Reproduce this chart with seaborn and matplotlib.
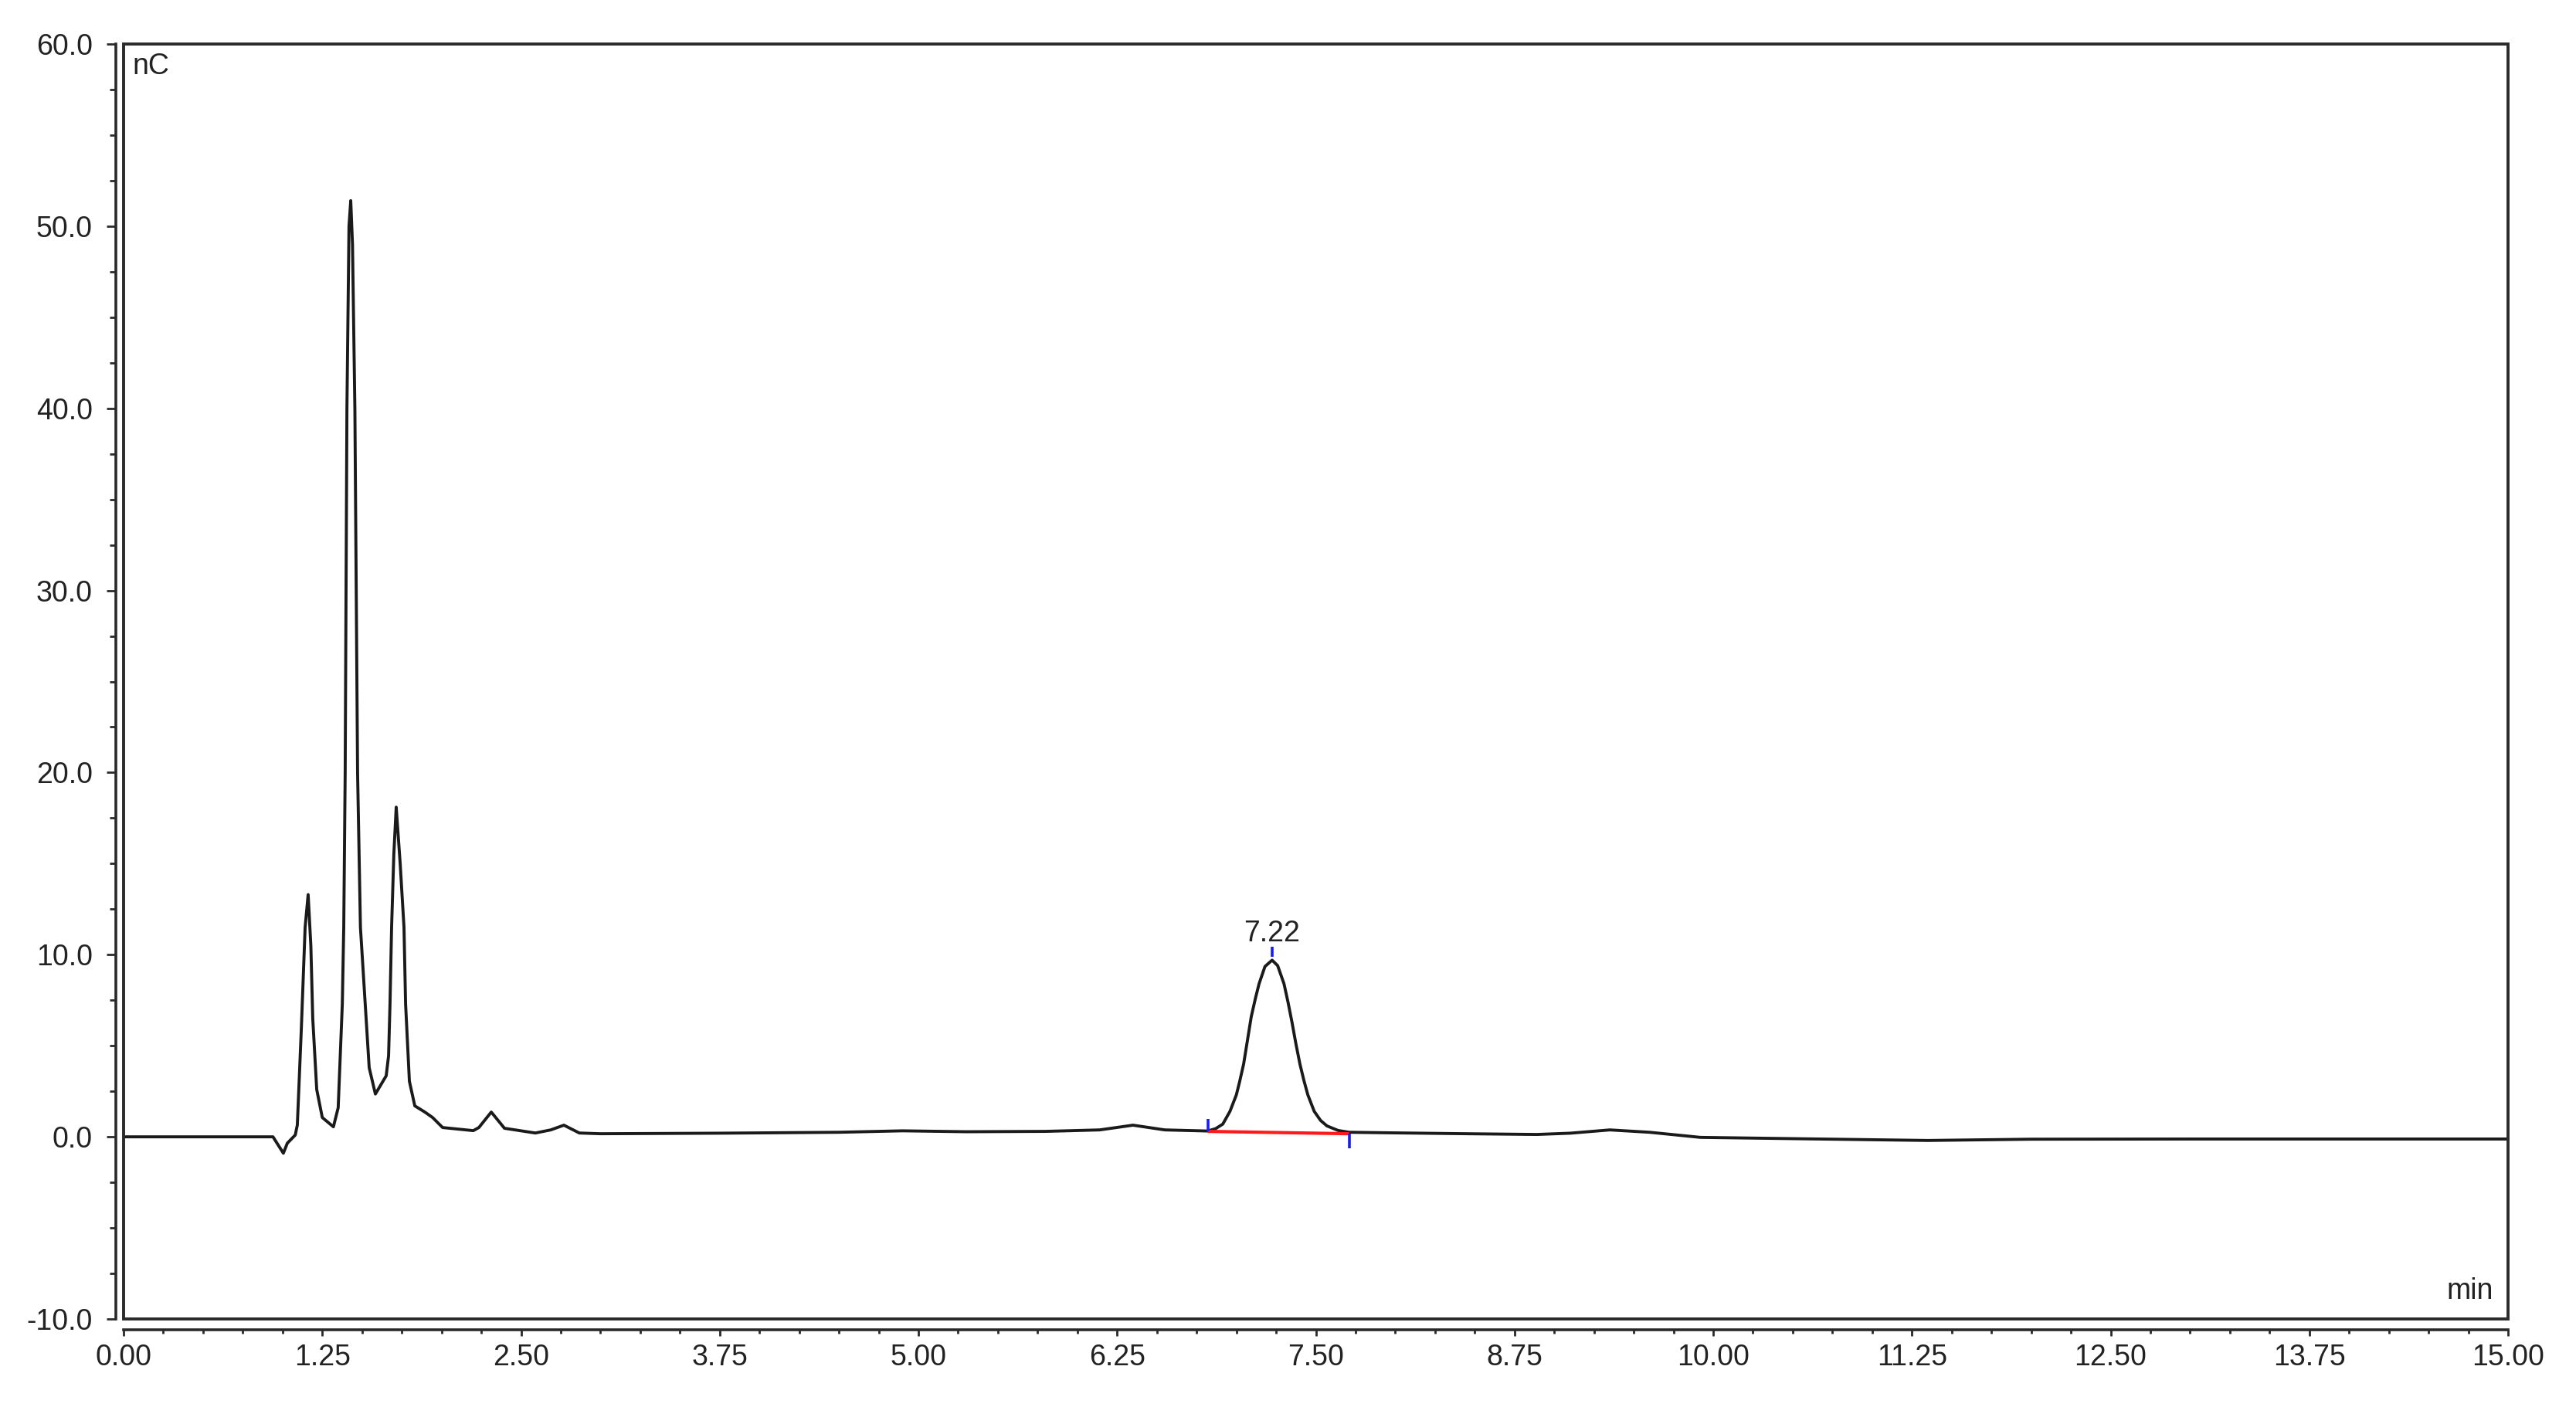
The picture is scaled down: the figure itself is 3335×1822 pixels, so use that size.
"""
Chromatogram (nC vs min) with one integrated peak at 7.22 min.
"""

import matplotlib

matplotlib.use("Agg")
from matplotlib import pyplot as plt
from matplotlib.patches import Rectangle
from matplotlib.ticker import FixedLocator, MultipleLocator, FormatStrFormatter
import pandas as pd
import seaborn as sns

# detector trace
time_min = [
    0.00, 0.94, 1.005, 1.03, 1.08, 1.093, 1.118, 1.142, 1.161, 1.178, 1.19,
    1.215, 1.25, 1.32, 1.35, 1.376, 1.385, 1.394, 1.405, 1.418, 1.429, 1.44,
    1.455, 1.472, 1.49, 1.52, 1.545, 1.584, 1.652, 1.667, 1.676, 1.686, 1.70,
    1.715, 1.74, 1.764, 1.774, 1.798, 1.832, 1.895, 1.944, 2.007, 2.20, 2.235,
    2.313, 2.396, 2.59, 2.687, 2.77, 2.867, 3.00, 3.75, 4.50, 4.90, 5.30, 5.80,
    6.14, 6.35, 6.55, 6.82, 6.87, 6.915, 6.96, 7.00, 7.02, 7.046, 7.07, 7.094,
    7.12, 7.143, 7.18, 7.225, 7.26, 7.30, 7.325, 7.35, 7.375, 7.40, 7.425,
    7.45, 7.49, 7.53, 7.57, 7.64, 7.71, 7.97, 8.45, 8.89, 9.10, 9.35, 9.60,
    9.92, 10.50, 11.35, 12.00, 13.00, 15.00,
]
signal_nc = [
    0.00, 0.00, -0.90, -0.35, 0.10, 0.65, 5.9, 11.5, 13.3, 10.5, 6.5,
    2.6, 1.06, 0.55, 1.6, 7.3, 11.5, 20.0, 40.0, 50.0, 51.4, 49.0,
    40.0, 20.0, 11.5, 7.3, 3.8, 2.35, 3.35, 4.45, 7.3, 11.5, 15.5,
    18.1, 15.0, 11.5, 7.3, 3.05, 1.7, 1.36, 1.06, 0.51, 0.34, 0.51,
    1.36, 0.47, 0.21, 0.38, 0.64, 0.21, 0.17, 0.20, 0.25, 0.33, 0.28, 0.30,
    0.38, 0.64, 0.38, 0.32, 0.45, 0.70, 1.4, 2.3, 3.0, 4.0, 5.3, 6.6,
    7.6, 8.4, 9.35, 9.70, 9.40, 8.4, 7.4, 6.3, 5.1, 4.0, 3.1,
    2.3, 1.4, 0.90, 0.60, 0.35, 0.25, 0.22, 0.17, 0.13, 0.20, 0.38, 0.25,
    -0.03, -0.10, -0.20, -0.13, -0.12, -0.12,
]

# integration of the 7.22 peak
peak_label = "7.22"
peak_time = 7.225
peak_height = 9.70
base_times = [6.82, 7.71]
base_values = [0.30, 0.17]

x_ticks = [0.00, 1.25, 2.50, 3.75, 5.00, 6.25, 7.50, 8.75, 10.00, 11.25, 12.50, 13.75, 15.00]
y_ticks = [-10.0, 0.0, 10.0, 20.0, 30.0, 40.0, 50.0, 60.0]

sns.set_style("ticks")
plt.rcParams["font.family"] = ["Liberation Sans", "DejaVu Sans"]

DPI = 100
fig = plt.figure(figsize=(3335 / DPI, 1822 / DPI), dpi=DPI)
ax = fig.add_axes([160 / 3335, 114 / 1822, 3087 / 3335, 1651 / 1822])

trace = pd.DataFrame({"time": time_min, "signal": signal_nc})
sns.lineplot(data=trace, x="time", y="signal", ax=ax, sort=False,
             estimator=None, color="#1a1a1a", linewidth=2.8, zorder=3)

# integration baseline and markers
ax.plot(base_times, base_values, color="#ff1a1a", linewidth=3.0, zorder=4,
        solid_capstyle="butt")
ax.vlines(base_times[0], base_values[0], base_values[0] + 0.7,
          color="#1a1aff", linewidth=2.6, zorder=5)
ax.vlines(base_times[1], base_values[1] - 0.8, base_values[1],
          color="#1a1aff", linewidth=2.6, zorder=5)
ax.vlines(peak_time, peak_height + 0.2, peak_height + 0.75,
          color="#1a1aff", linewidth=2.6, zorder=5)
ax.text(peak_time, peak_height + 1.05, peak_label, ha="center", va="baseline",
        fontsize=27, color="#222222")

ax.set_xlim(0, 15)
ax.set_ylim(-10, 60)
ax.set_xlabel("")
ax.set_ylabel("")

ax.xaxis.set_major_locator(FixedLocator(x_ticks))
ax.xaxis.set_minor_locator(MultipleLocator(0.25))
ax.xaxis.set_major_formatter(FormatStrFormatter("%.2f"))
ax.yaxis.set_major_locator(FixedLocator(y_ticks))
ax.yaxis.set_minor_locator(MultipleLocator(2.5))
ax.yaxis.set_major_formatter(FormatStrFormatter("%.1f"))

frame_color = "#2a2a2a"
for side in ("top", "right"):
    ax.spines[side].set_visible(False)
ax.spines["left"].set_position(("outward", 7.2))
ax.spines["bottom"].set_position(("outward", 10))
for side in ("left", "bottom"):
    ax.spines[side].set_linewidth(2.6)
    ax.spines[side].set_color(frame_color)

ax.add_patch(Rectangle((0, 0), 1, 1, transform=ax.transAxes, fill=False,
                       edgecolor=frame_color, linewidth=2.8, clip_on=False,
                       zorder=6))

ax.tick_params(axis="y", which="major", direction="out", length=8.6, width=2.0,
               pad=13, labelsize=27, colors=frame_color, labelcolor="#222222")
ax.tick_params(axis="y", which="minor", direction="out", length=5.5, width=2.0,
               colors=frame_color)
ax.tick_params(axis="x", which="major", direction="out", length=5.8, width=2.0,
               pad=7, labelsize=27, colors=frame_color, labelcolor="#222222")
ax.tick_params(axis="x", which="minor", direction="out", length=3.6, width=2.0,
               colors=frame_color)

ax.annotate("nC", xy=(0, 1), xycoords="axes fraction", xytext=(8.6, -8),
            textcoords="offset points", ha="left", va="top", fontsize=27,
            color="#222222")
ax.annotate("min", xy=(1, 0), xycoords="axes fraction", xytext=(-14, 19),
            textcoords="offset points", ha="right", va="baseline", fontsize=27,
            color="#222222")

fig.savefig("out.png", dpi=DPI, facecolor="white")
plt.close(fig)
